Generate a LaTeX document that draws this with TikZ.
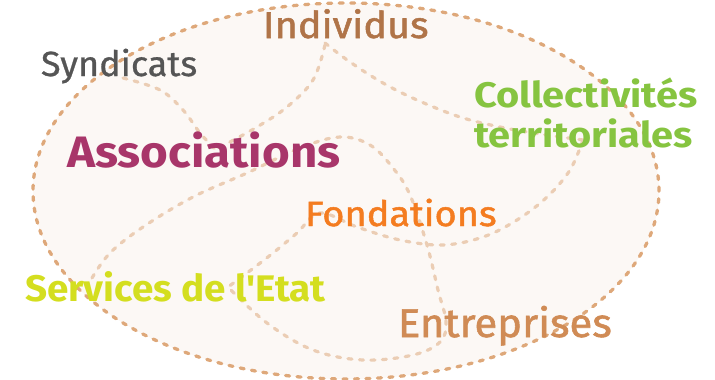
\documentclass[tikz,border=0pt]{standalone}
\usepackage{fontspec}
\setmainfont{Fira Sans}
\newfontfamily\fIndiv[FakeBold=1.4, FakeStretch=1.07]{Fira Sans}
\newfontfamily\fSynd[FakeBold=0.8, FakeStretch=1.03]{Fira Sans}
\newfontfamily\fAsso[FakeStretch=1.08]{Fira Sans}
\newfontfamily\fColl[FakeStretch=1.12]{Fira Sans}
\newfontfamily\fFond[FakeBold=1.4, FakeStretch=1.085]{Fira Sans}
\newfontfamily\fServ[FakeStretch=1.045]{Fira Sans}
\newfontfamily\fEntr[FakeBold=1.4, FakeStretch=1.045]{Fira Sans}
\definecolor{outerc}{HTML}{DEA87A}
\definecolor{innerc}{HTML}{EBCDB4}
\definecolor{fillc}{HTML}{FCF8F5}
\definecolor{indivc}{HTML}{B07448}
\definecolor{syndc}{HTML}{555555}
\definecolor{assoc}{HTML}{A8366A}
\definecolor{collc}{HTML}{86C440}
\definecolor{fondc}{HTML}{F47C20}
\definecolor{servc}{HTML}{D4DE1F}
\definecolor{entrc}{HTML}{D08B55}
\begin{document}
\begin{tikzpicture}[x=1pt,y=-1pt,
  outerline/.style={draw=outerc, line width=3.3pt, line cap=round, dash pattern=on 4pt off 7.5pt},
  innerline/.style={draw=innerc, line width=3.2pt, line cap=round, dash pattern=on 4pt off 7.5pt},
  lbl/.style={anchor=base west, inner sep=0pt, outer sep=0pt}]
\useasboundingbox (0,0) rectangle (715,380);
\fill[fillc] (346,191) ellipse [x radius=313pt, y radius=188pt];
% inner curves
\draw[innerline] plot[smooth, tension=0.6] coordinates {(123,78) (160,90) (183,110) (200,133) (216,150)};
\draw[innerline] plot[smooth, tension=0.6] coordinates {(325,45) (313,80) (287,107) (257,127) (230,142) (216,150)};
\draw[innerline] plot[smooth, tension=0.6] coordinates {(325,43) (350,62) (383,83) (417,100) (460,117) (500,127) (540,134) (583,140)};
\draw[innerline] plot[smooth, tension=0.6] coordinates {(583,140) (570,170) (547,197) (517,220) (483,237) (443,245) (400,240) (357,227) (320,213) (297,233) (273,253) (247,273) (228,287)};
\draw[innerline] plot[smooth, tension=0.6] coordinates {(92,278) (110,253) (143,227) (193,197) (247,173) (300,148) (340,137) (370,145) (393,168) (410,195) (427,245) (438,290) (446,322) (440,342) (413,355) (363,360) (313,350) (267,323) (228,287)};
\draw[outerline] (346,191) ellipse [x radius=313pt, y radius=188pt];
% labels
\node[lbl, text=indivc, font=\fIndiv\fontsize{37}{40}\selectfont] (indiv) at (263,38) {Individus};
\node[lbl, text=syndc, font=\fSynd\fontsize{35}{40}\selectfont] (synd) at (41,76) {Syndicats};
\node[lbl, text=assoc, font=\fAsso\bfseries\fontsize{44}{48}\selectfont] (asso) at (67,167) {Associations};
\node[lbl, text=collc, font=\fColl\bfseries\fontsize{35.5}{40}\selectfont] (coll) at (474,107) {Collectivités};
\node[lbl, text=collc, font=\fColl\bfseries\fontsize{35.5}{40}\selectfont] (terr) at (474,147) {territoriales};
\node[lbl, text=fondc, font=\fFond\fontsize{35}{40}\selectfont] (fond) at (305,226) {Fondations};
\node[lbl, text=servc, font=\fServ\bfseries\fontsize{37}{40}\selectfont] (serv) at (25,301) {Services de l\textquotesingle Etat};
\node[lbl, text=entrc, font=\fEntr\fontsize{40}{44}\selectfont] (entr) at (398,337) {Entreprises};
\end{tikzpicture}
\end{document}
